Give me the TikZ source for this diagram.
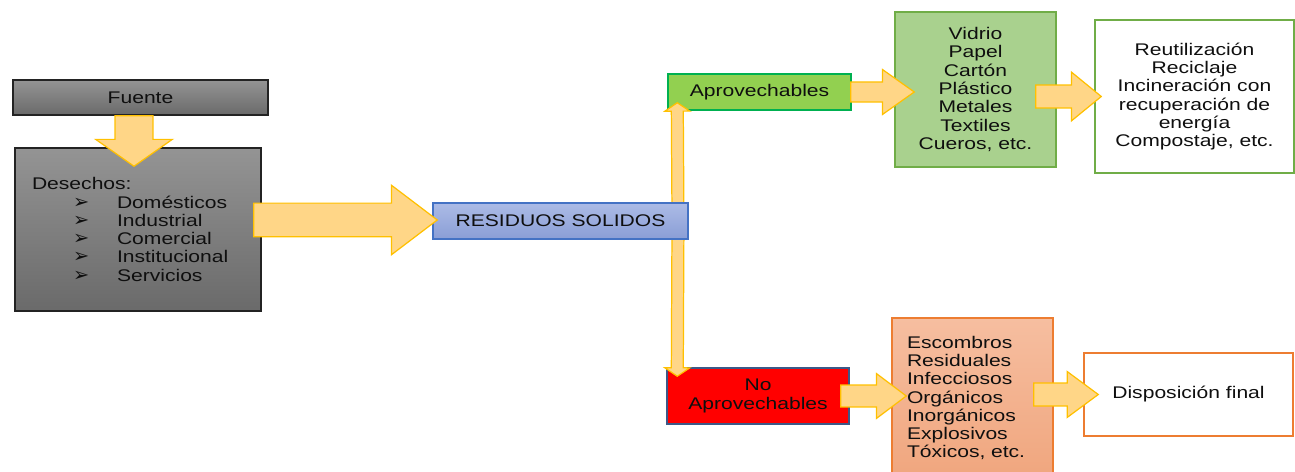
\documentclass[tikz,border=0pt]{standalone}
\usepackage{fontspec}
\setmainfont{Liberation Sans}[FakeStretch=1.25]
\newfontfamily\symfont{DejaVu Sans}
\usetikzlibrary{calc}

\definecolor{ink}{RGB}{15,15,15}
\definecolor{greyline}{RGB}{35,35,35}
\definecolor{greytop}{RGB}{148,148,148}
\definecolor{greybot}{RGB}{106,106,106}
\definecolor{bluetop}{RGB}{172,187,230}
\definecolor{bluebot}{RGB}{138,158,214}
\definecolor{blueline}{RGB}{68,114,196}
\definecolor{aprofill}{RGB}{146,208,80}
\definecolor{aproline}{RGB}{0,176,80}
\definecolor{vidfill}{RGB}{169,209,142}
\definecolor{vidline}{RGB}{112,173,71}
\definecolor{noapline}{RGB}{60,88,135}
\definecolor{oratop}{RGB}{246,190,160}
\definecolor{orabot}{RGB}{240,166,126}
\definecolor{oraline}{RGB}{237,125,49}
\definecolor{arrowfill}{RGB}{255,214,135}
\definecolor{arrowline}{RGB}{255,192,0}

\newdimen\pxu \pxu=0.02cm
\newcommand{\itm}[1]{\hspace*{41\pxu}\makebox[44\pxu][l]{\symfont\fontsize{11}{10}\selectfont ➢}#1}

\begin{document}
\begin{tikzpicture}
[
    x=0.02cm, y=-0.02cm,
    every node/.style={font=\fontsize{9.6}{10.4}\selectfont, text=ink, inner sep=0pt},
    box/.style n args={2}{rectangle, minimum width=#1\pxu, minimum height=#2\pxu, line width=0.85pt, align=center},
    blockarrow/.style n args={3}{fill=arrowfill, draw=arrowline, line width=0.7pt,
        to path={let \p1=($(\tikztotarget)!#3!(\tikztostart)$) in
            ($(\tikztostart)!#1!90:(\tikztotarget)$) -- ($(\p1)!#1!-90:(\tikztostart)$)
            -- ($(\p1)!#2!-90:(\tikztostart)$) -- (\tikztotarget)
            -- ($(\p1)!#2!90:(\tikztostart)$) -- ($(\p1)!#1!90:(\tikztostart)$)
            -- ($(\tikztostart)!#1!-90:(\tikztotarget)$) -- cycle}},
]
\useasboundingbox (0,0) rectangle (1295,472);
\node [box={255}{35}, draw=greyline, top color=greytop, bottom color=greybot] (fuente) at (140.5,97.5) {Fuente};
\node [box={246}{163}, draw=greyline, top color=greytop, bottom color=greybot, text width=212\pxu, align=left] (desechos) at (138,229.5)
{Desechos:\\ \itm{Domésticos}\\ \itm{Industrial}\\ \itm{Comercial}\\ \itm{Institucional}\\ \itm{Servicios}};
\node [box={183}{36}, draw=aproline, fill=aprofill] (apro) at (759.5,92) {Aprovechables};
\node [box={182}{56}, draw=noapline, fill=red] (noap) at (758,396) {No\\Aprovechables};
\node [box={161}{155}, draw=vidline, fill=vidfill] (vid) at (975.5,89.5)
{Vidrio\\Papel\\Cartón\\Plástico\\Metales\\Textiles\\Cueros, etc.};
\node [box={199}{153}, draw=vidline, fill=white] (reuse) at (1194.5,96.5)
{Reutilización\\Reciclaje\\Incineración con\\recuperación de\\energía\\Compostaje, etc.};
\node [box={161}{160}, draw=oraline, top color=oratop, bottom color=orabot, text width=131\pxu, align=left] (ora) at (972.5,398)
{Escombros\\Residuales\\Infecciosos\\Orgánicos\\Inorgánicos\\Explosivos\\Tóxicos, etc.};
\node [box={209}{83}, draw=oraline, fill=white] (disp) at (1188.5,394.5) {Disposición final};

\coordinate (split) at (678,221);
\draw [blockarrow={3.4pt}{7.1pt}{4.8pt}] (split) to ($(apro.south west)+(10,-8)$);
\draw [blockarrow={3.4pt}{7.1pt}{4.8pt}] (split) to ($(noap.north west)+(11,9)$);
\node [box={255}{36}, draw=blueline, top color=bluetop, bottom color=bluebot] (residuos) at (560.5,221) {RESIDUOS SOLIDOS};

\draw [blockarrow={10.8pt}{21.8pt}{15.3pt}] ($(fuente.south)+(-6.5,0)$) to ($(desechos.north)+(-4,19)$);
\draw [blockarrow={9.6pt}{19.8pt}{26.1pt}] ($(desechos.east)+(-8,-9.5)$) to ($(residuos.west)+(5,-1)$);
\draw [blockarrow={5.7pt}{12.8pt}{18.1pt}] ($(apro.east)+(-1,0)$) to ($(apro.east -| vid.west)+(20,0)$);
\draw [blockarrow={6.5pt}{13.9pt}{17pt}] ($(reuse.west -| vid.east)+(-21,0)$) to ($(reuse.west)+(7,0)$);
\draw [blockarrow={6.2pt}{12.8pt}{17pt}] ($(noap.east)+(-9,0)$) to ($(noap.east -| ora.west)+(15,0)$);
\draw [blockarrow={6.5pt}{13pt}{17.6pt}] ($(disp.west -| ora.east)+(-20,0)$) to ($(disp.west)+(15,0)$);
\end{tikzpicture}
\end{document}
